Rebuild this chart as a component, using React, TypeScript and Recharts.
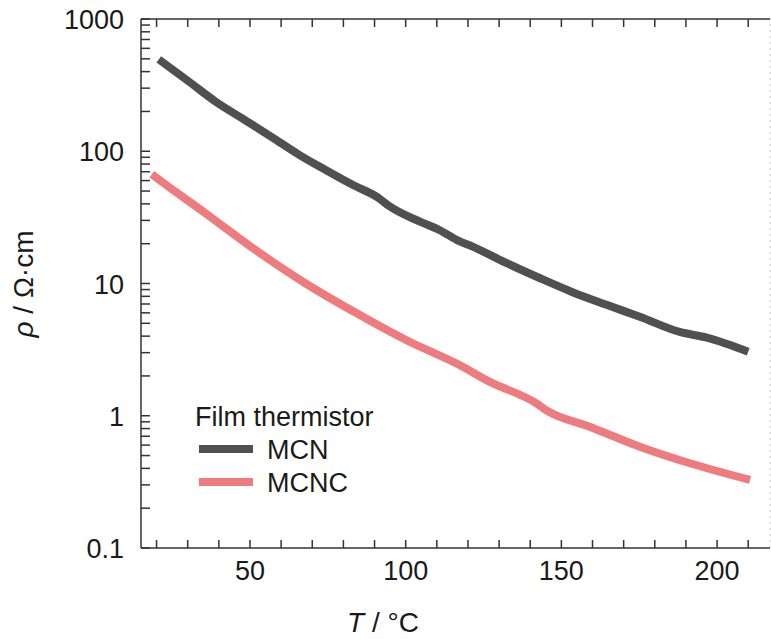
import { LineChart, Line, XAxis, YAxis, Legend, ReferenceLine, Label } from "recharts";

// ─── Data ─────────────────────────────────────────────────────────────────────

const mcnT   = [20.7, 30.4, 39, 47.4, 57, 65.8, 74.4, 82.8, 91.5, 94.7, 104.4, 110.8, 117, 121.5, 132.3, 143, 153.6, 164.5, 175.2, 188, 196.7, 210];
const mcnRho = [495, 336, 237, 178, 128, 94, 72, 56, 44, 38.5, 29.5, 25.4, 21, 19, 14.3, 11, 8.6, 6.9, 5.6, 4.3, 3.9, 3.05];

const mcncT   = [18.5, 19.6, 35.7, 51.8, 67.9, 84, 100.1, 117.3, 126.9, 142, 145.2, 159.1, 175.2, 191.3, 210.6];
const mcncRho = [67, 64, 34, 17.9, 10, 6.0, 3.74, 2.42, 1.81, 1.24, 1.1, 0.826, 0.583, 0.437, 0.327];

const xMajor = [50, 100, 150, 200];
const xTicks = [20, 30, 40, 50, 60, 70, 80, 90, 100, 110, 120, 130, 140, 150, 160, 170, 180, 190, 200, 210];
const yMajor = [0.1, 1, 10, 100, 1000];
const yMajorLabels = ["0.1", "1", "10", "100", "1000"];
const yTicks = [
  0.1, 0.2, 0.3, 0.4, 0.5, 0.6, 0.7, 0.8, 0.9,
  1, 2, 3, 4, 5, 6, 7, 8, 9,
  10, 20, 30, 40, 50, 60, 70, 80, 90,
  100, 200, 300, 400, 500, 600, 700, 800, 900, 1000,
];

const mcnData  = mcnT.map((t, i) => ({ t, rho: mcnRho[i] }));
const mcncData = mcncT.map((t, i) => ({ t, rho: mcncRho[i] }));

const FONT = "'Liberation Sans', Arial, Helvetica, sans-serif";
const INK = "#333";
const TXT = "#1a1a1a";

// ─── Ticks ────────────────────────────────────────────────────────────────────

function BottomTick({ x, y, payload }: any) {
  const v = payload.value;
  return (
    <g>
      <line x1={x} x2={x} y1={y} y2={y - 8} stroke={INK} strokeWidth={1.5} />
      {xMajor.includes(v) && (
        <text x={x} y={y + 32} textAnchor="middle" fontSize={27} fontFamily={FONT} fill={TXT}>{v}</text>
      )}
    </g>
  );
}

function TopTick({ x, y }: any) {
  return <line x1={x} x2={x} y1={y} y2={y + 8} stroke={INK} strokeWidth={1.5} />;
}

function LeftTick({ x, y, payload }: any) {
  const idx = yMajor.findIndex((m) => Math.abs(m - payload.value) < 1e-9);
  return (
    <g>
      <line x1={x} x2={x + 9} y1={y} y2={y} stroke={INK} strokeWidth={1.5} />
      {idx >= 0 && (
        <text x={x - 17} y={y + 10} textAnchor="end" fontSize={27} fontFamily={FONT} fill={TXT}>{yMajorLabels[idx]}</text>
      )}
    </g>
  );
}

// ─── Legend ───────────────────────────────────────────────────────────────────

function LegendBox({ payload }: any) {
  return (
    <div style={{ fontFamily: FONT, fontSize: 27, lineHeight: "33px", color: TXT, textAlign: "left", whiteSpace: "nowrap" }}>
      <div>Film thermistor</div>
      {(payload ?? []).map((p: any) => (
        <div key={p.value} style={{ display: "flex", alignItems: "center" }}>
          <span style={{ display: "inline-block", width: 54, height: 8, background: p.color, marginLeft: 4, marginRight: 14, position: "relative", top: -2 }} />
          <span>{p.value}</span>
        </div>
      ))}
    </div>
  );
}

// ─── Main ─────────────────────────────────────────────────────────────────────

export default function App() {
  return (
    <div style={{ position: "absolute", left: 0, top: 0, width: 771, height: 639, background: "#fff" }}>
      <LineChart width={771} height={639} margin={{ top: 9, right: 1, left: 0, bottom: 0 }}>
        <XAxis
          xAxisId="bottom"
          type="number"
          dataKey="t"
          domain={[15, 217]}
          ticks={xTicks}
          allowDataOverflow
          height={91}
          tickSize={0}
          tickMargin={0}
          tickLine={false}
          axisLine={{ stroke: INK, strokeWidth: 1.5 }}
          tick={<BottomTick />}
          interval={0}
        >
          <Label
            content={() => (
              <text x={383} y={632} textAnchor="middle" fontSize={28} fontFamily={FONT} fill={TXT}>
                <tspan fontStyle="italic">T</tspan>
                <tspan> / °C</tspan>
              </text>
            )}
          />
        </XAxis>
        <XAxis
          xAxisId="top"
          orientation="top"
          type="number"
          dataKey="t"
          domain={[15, 217]}
          ticks={xTicks}
          allowDataOverflow
          height={10}
          tickSize={0}
          tickMargin={0}
          tickLine={false}
          axisLine={{ stroke: INK, strokeWidth: 1.5 }}
          tick={<TopTick />}
          interval={0}
        />
        <YAxis
          type="number"
          dataKey="rho"
          scale="log"
          domain={[0.1, 1000]}
          ticks={yTicks}
          allowDataOverflow
          width={141}
          tickSize={0}
          tickMargin={0}
          tickLine={false}
          axisLine={{ stroke: INK, strokeWidth: 1.5 }}
          tick={<LeftTick />}
          interval={0}
        >
          <Label
            content={() => (
              <text x={0} y={0} transform="translate(33 284) rotate(-90)" textAnchor="middle" fontSize={28} fontFamily={FONT} fill={TXT}>
                <tspan fontStyle="italic">ρ</tspan>
                <tspan> / Ω·cm</tspan>
              </text>
            )}
          />
        </YAxis>
        <ReferenceLine xAxisId="bottom" x={217} stroke="#c8c8c8" strokeDasharray="2 4" strokeWidth={1} />
        <Legend
          layout="horizontal"
          verticalAlign="middle"
          align="center"
          content={<LegendBox />}
          wrapperStyle={{ left: 195, top: 401, width: "auto" }}
        />
        <Line
          xAxisId="bottom"
          data={mcnData}
          dataKey="rho"
          name="MCN"
          type="monotone"
          stroke="#505050"
          strokeWidth={8}
          dot={false}
          activeDot={false}
          strokeLinejoin="round"
          isAnimationActive={false}
        />
        <Line
          xAxisId="bottom"
          data={mcncData}
          dataKey="rho"
          name="MCNC"
          type="monotone"
          stroke="#ee7c7e"
          strokeWidth={8}
          dot={false}
          activeDot={false}
          strokeLinejoin="round"
          isAnimationActive={false}
        />
      </LineChart>
    </div>
  );
}
